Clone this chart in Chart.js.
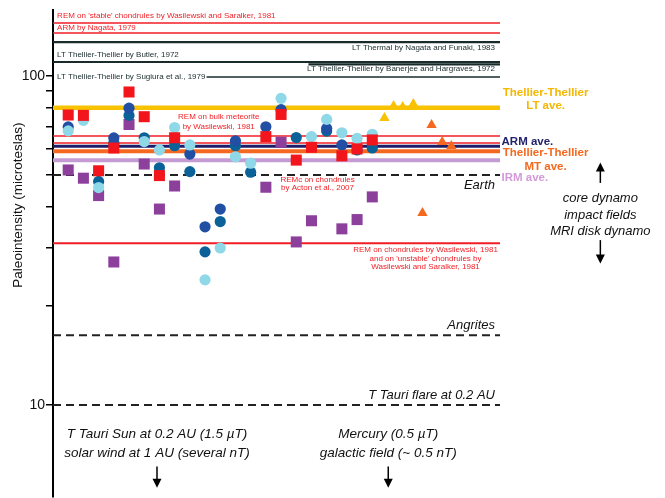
<!DOCTYPE html>
<html>
<head>
<meta charset="utf-8">
<script src="https://cdn.jsdelivr.net/npm/chart.js@4.4.1/dist/chart.umd.min.js"></script>
<style>
  html, body { margin: 0; padding: 0; background: #fff; }
  canvas { display: block; }
</style>
</head>
<body>
<canvas id="c" width="665" height="498"></canvas>
<script>
// Specimen columns run 1..21 along the horizontal axis; values are paleointensities in microteslas.

// REM (red squares)
const remX = [1, 2, 3, 4, 5, 6, 7, 8, 14, 15, 16, 17, 19, 20, 21];
const remY = [76.1, 75.9, 51.5, 60.4, 89.4, 75.2, 49.8, 64.9, 65.4, 76.4, 55.5, 60.7, 57.2, 60.0, 63.9];

// ARM (dark blue circles)
const armX = [1, 4, 5, 9, 10, 11, 12, 14, 15, 18, 19];
const armY = [70.0, 64.8, 79.8, 57.9, 34.8, 39.4, 63.5, 70.1, 79.0, 69.3, 61.7];

// Thellier-Thellier MT (blue circles)
const mtX = [3, 4, 5, 6, 7, 8, 9, 10, 11, 12, 13, 16, 18, 20, 21];
const mtY = [47.8, 62.6, 75.9, 64.9, 52.6, 61.4, 51.2, 29.2, 36.1, 61.3, 51.0, 65.0, 68.0, 59.6, 60.4];

// Thellier-Thellier LT (light blue circles)
const ltX = [1, 2, 3, 6, 7, 8, 9, 10, 11, 12, 13, 15, 17, 18, 19, 20, 21];
const ltY = [68.1, 73.3, 45.8, 63.2, 59.6, 69.7, 61.7, 24.0, 30.0, 56.8, 54.3, 85.5, 65.4, 73.8, 67.2, 64.6, 66.5];

// IRM (purple squares)
const irmX = [1, 2, 3, 4, 5, 6, 7, 8, 14, 15, 16, 17, 19, 20, 21];
const irmY = [51.8, 48.9, 43.3, 27.2, 71.2, 54.0, 39.4, 46.3, 45.9, 62.9, 31.3, 36.3, 34.3, 36.6, 42.9];

// Other studies (triangles)
const ltOtherX = [21.8, 22.4, 23.0, 23.7];
const ltOtherY = [74.5, 81.1, 80.5, 82.2];
const mtOtherX = [24.3, 24.9, 25.6, 26.2];
const mtOtherY = [38.3, 71.0, 63.0, 61.3];

// Reference levels (microteslas)
const lineNames = ['remStable', 'armNagata', 'ltThermal', 'butler', 'banerjee', 'sugiura',
  'ltAve', 'remBulk', 'remAve', 'armAve', 'mtAve', 'irmAve', 'earth', 'remChondrules', 'angrites', 'tTauriFlare'];
const lineValues = [145, 135, 126.7, 110.3, 108.4, 99.3, 80, 65.7, 62.6, 61.1, 59, 55.4, 50, 31, 16.3, 10];

// Axis ticks
const yTicks = [10, 20, 30, 40, 50, 60, 70, 80, 90, 100];
const yTickLabels = ['10', '100'];

const X_MAX = 29.4;
const Y_MIN = 5.25, Y_MAX = 158.7;

const FONT = "'Liberation Sans', Arial, sans-serif";
Chart.defaults.font.family = FONT;

const RED = '#f01e24', DARK = '#1a2b2c';
const lineStyles = {
  remStable:     { color: RED, width: 1.5 },
  armNagata:     { color: RED, width: 1.5 },
  ltThermal:     { color: DARK, width: 2.2 },
  butler:        { color: DARK, width: 2.2 },
  banerjee:      { color: DARK, width: 2.2, start: 16.8 },
  sugiura:       { color: DARK, width: 1.6, start: 10.1 },
  ltAve:         { color: '#f8c200', width: 4.5 },
  remBulk:       { color: RED, width: 1.5 },
  remAve:        { color: RED, width: 1.5 },
  armAve:        { color: '#1c1c68', width: 3 },
  mtAve:         { color: '#f4691f', width: 4 },
  irmAve:        { color: '#c49bd2', width: 4 },
  earth:         { color: '#222', width: 2, dash: [8, 5] },
  remChondrules: { color: RED, width: 2 },
  angrites:      { color: '#222', width: 2, dash: [8, 5] },
  tTauriFlare:   { color: '#222', width: 2, dash: [8, 5] }
};

const pts = (xs, ys) => xs.map((x, i) => ({ x: x, y: ys[i] }));

const pointSets = [
  { data: pts(remX, remY), backgroundColor: '#f2151c', pointStyle: 'rect', pointRadius: 7.8, order: 0 },
  { data: pts(ltX, ltY), backgroundColor: '#8ed8e8', pointStyle: 'circle', pointRadius: 5.6, order: 1 },
  { data: pts(armX, armY), backgroundColor: '#204fa4', pointStyle: 'circle', pointRadius: 5.6, order: 2 },
  { data: pts(mtX, mtY), backgroundColor: '#0b6298', pointStyle: 'circle', pointRadius: 5.6, order: 3 },
  { data: pts(irmX, irmY), backgroundColor: '#8c409c', pointStyle: 'rect', pointRadius: 7.8, order: 4 },
  { data: pts(ltOtherX, ltOtherY), backgroundColor: '#f8c200', pointStyle: 'triangle', pointRadius: 6, order: 1 },
  { data: pts(mtOtherX, mtOtherY), backgroundColor: '#f4691f', pointStyle: 'triangle', pointRadius: 6, order: 1 }
].map(d => Object.assign({ type: 'scatter', borderWidth: 0, pointHoverRadius: d.pointRadius, showLine: false }, d));

const lineSets = lineNames.map((name, i) => {
  const s = lineStyles[name];
  return {
    type: 'line',
    label: name,
    data: [{ x: s.start || 0, y: lineValues[i] }, { x: X_MAX, y: lineValues[i] }],
    borderColor: s.color,
    borderWidth: s.width,
    borderDash: s.dash || [],
    pointRadius: 0,
    fill: false,
    order: 10
  };
});

const valueOf = name => lineValues[lineNames.indexOf(name)];

function arrow(ctx, x, y1, y2) {
  const dir = y2 > y1 ? 1 : -1;
  ctx.save();
  ctx.strokeStyle = '#000';
  ctx.fillStyle = '#000';
  ctx.lineWidth = 1.5;
  ctx.beginPath();
  ctx.moveTo(x, y1);
  ctx.lineTo(x, y2 - dir * 6);
  ctx.stroke();
  ctx.beginPath();
  ctx.moveTo(x, y2);
  ctx.lineTo(x - 4.5, y2 - dir * 9);
  ctx.lineTo(x + 4.5, y2 - dir * 9);
  ctx.closePath();
  ctx.fill();
  ctx.restore();
}

const notes = {
  id: 'notes',
  afterDraw(chart) {
    const ctx = chart.ctx;
    const xs = chart.scales.x, ys = chart.scales.y;
    const X = u => xs.getPixelForValue(u);
    const Y = v => ys.getPixelForValue(v);
    const text = (s, x, y, font, color, align) => {
      ctx.font = font;
      ctx.fillStyle = color;
      ctx.textAlign = align || 'left';
      ctx.textBaseline = 'middle';
      ctx.fillText(s, x, y);
    };
    ctx.save();

    const small = '8px ' + FONT;
    const left = X(0.27), right = X(X_MAX) - 5;

    // study labels along the upper lines
    text("REM on 'stable' chondrules by Wasilewski and Saralker, 1981", left, Y(valueOf('remStable')) - 7, small, RED);
    text('ARM by Nagata, 1979', left, Y(valueOf('armNagata')) - 5.5, small, RED);
    text('LT Thermal by Nagata and Funaki, 1983', right, Y(valueOf('ltThermal')) + 6, small, DARK, 'right');
    text('LT Thellier-Thellier by Butler, 1972', left, Y(valueOf('butler')) - 7, small, DARK);
    text('LT Thellier-Thellier by Banerjee and Hargraves, 1972', right, Y(valueOf('banerjee')) + 4.5, small, DARK, 'right');
    text('LT Thellier-Thellier by Sugiura et al., 1979', left, Y(valueOf('sugiura')), small, DARK);

    // labels inside the plot
    const yb = Y(valueOf('remBulk'));
    text('REM on bulk meteorite', X(10.9), yb - 19, small, RED, 'center');
    text('by Wasilewski, 1981', X(10.9), yb - 9.5, small, RED, 'center');
    const ye = Y(valueOf('earth'));
    text('REMc on chondrules', X(17.4), ye + 4.5, small, RED, 'center');
    text('by Acton et al., 2007', X(17.4), ye + 12.5, small, RED, 'center');
    const yc = Y(valueOf('remChondrules'));
    text('REM on chondrules by Wasilewski, 1981', X(24.5), yc + 6.5, small, RED, 'center');
    text("and on 'unstable' chondrules by", X(24.5), yc + 15, small, RED, 'center');
    text('Wasilewski and Saralker, 1981', X(24.5), yc + 23.5, small, RED, 'center');

    const it = 'italic 13px ' + FONT;
    text('Earth', right, ye + 10.5, it, '#111', 'right');
    text('Angrites', right, Y(valueOf('angrites')) - 10, it, '#111', 'right');
    text('T Tauri flare at 0.2 AU', right, Y(valueOf('tTauriFlare')) - 9.5, it, '#111', 'right');

    // averages on the right
    const bold = 'bold 11.5px ' + FONT;
    const yl = Y(valueOf('ltAve'));
    text('Thellier-Thellier', X(32.4), yl - 15.5, bold, '#f5b700', 'center');
    text('LT ave.', X(32.4), yl - 2, bold, '#f5b700', 'center');
    text('ARM ave.', X(29.5), Y(valueOf('armAve')) - 4.5, bold, '#23236c');
    const ym = Y(valueOf('mtAve'));
    text('Thellier-Thellier', X(32.4), ym + 1.5, bold, '#f4691f', 'center');
    text('MT ave.', X(32.4), ym + 15.5, bold, '#f4691f', 'center');
    text('IRM ave.', X(29.5), Y(valueOf('irmAve')) + 17.5, bold, '#d29ad8');

    // field sources
    const cx = X(36.0);
    arrow(ctx, cx, Y(47.3), Y(54.6));
    text('core dynamo', cx, Y(42.6), it, '#111', 'center');
    text('impact fields', cx, Y(37.8), it, '#111', 'center');
    text('MRI disk dynamo', cx, Y(33.8), it, '#111', 'center');
    arrow(ctx, cx, Y(31.7), Y(26.9));

    const it2 = 'italic 13.5px ' + FONT;
    const bx1 = X(6.84), bx2 = X(22.05);
    text('T Tauri Sun at 0.2 AU (1.5 \u00b5T)', bx1, Y(8.16), it2, '#111', 'center');
    text('solar wind at 1 AU (several nT)', bx1, Y(7.15), it2, '#111', 'center');
    arrow(ctx, bx1, Y(6.5), Y(5.6));
    text('Mercury (0.5 \u00b5T)', bx2, Y(8.16), it2, '#111', 'center');
    text('galactic field (~ 0.5 nT)', bx2, Y(7.15), it2, '#111', 'center');
    arrow(ctx, bx2, Y(6.5), Y(5.6));

    // axis title
    ctx.save();
    ctx.translate(chart.chartArea.left - 35, Y(40.5));
    ctx.rotate(-Math.PI / 2);
    text('Paleointensity (microteslas)', 0, 0, '13.5px ' + FONT, '#111', 'center');
    ctx.restore();

    ctx.restore();
  }
};

new Chart(document.getElementById('c'), {
  type: 'scatter',
  data: { datasets: pointSets.concat(lineSets) },
  options: {
    responsive: false,
    animation: false,
    layout: { autoPadding: false, padding: { top: 10, right: 165, bottom: 1, left: 0 } },
    plugins: { legend: { display: false }, tooltip: { enabled: false } },
    scales: {
      x: { type: 'linear', min: 0, max: X_MAX, display: false },
      y: {
        type: 'logarithmic',
        min: Y_MIN,
        max: Y_MAX,
        afterFit(scale) {
          scale.width = 53;
          scale.paddingTop = 0;
          scale.paddingBottom = 0;
        },
        afterBuildTicks(scale) { scale.ticks = yTicks.map(v => ({ value: v })); },
        ticks: {
          padding: 1,
          color: '#111',
          font: { size: 14, family: FONT },
          autoSkip: false,
          callback: v => (yTickLabels.indexOf(String(v)) >= 0 ? String(v) : '')
        },
        grid: { drawOnChartArea: false, drawTicks: true, tickLength: 7, color: '#000', lineWidth: 1.5 },
        border: { display: true, color: '#000', width: 2 }
      }
    }
  },
  plugins: [notes]
});
</script>
</body>
</html>
